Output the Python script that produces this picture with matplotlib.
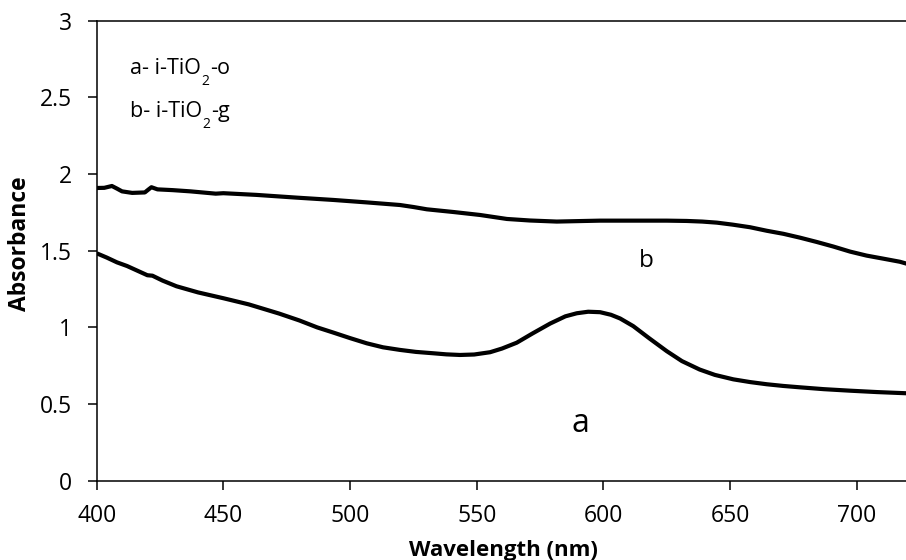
import matplotlib
matplotlib.use("Agg")
import matplotlib.pyplot as plt
from matplotlib.transforms import IdentityTransform

plt.rcParams['font.family'] = ['Open Sans', 'DejaVu Sans']

# Curve b: i-TiO2-g
wl_b = [400, 403, 406, 408, 410, 414, 419, 420.5, 421.6, 424, 430, 437, 447, 450, 463,
        479, 493.4, 506.6, 519.7, 525, 530.3, 541, 551.3, 561.9, 571, 581.6, 590,
        598.7, 611.8, 625, 632.9, 639, 644.8, 651, 657.9, 664.5, 671.1, 677.6, 684.2,
        690.8, 697.4, 703.9, 710.5, 717, 720]
ab_b = [1.909, 1.910, 1.922, 1.905, 1.887, 1.877, 1.880, 1.900, 1.914, 1.900, 1.895,
        1.887, 1.872, 1.875, 1.864, 1.846, 1.831, 1.815, 1.798, 1.785, 1.770, 1.752,
        1.733, 1.707, 1.697, 1.690, 1.693, 1.696, 1.696, 1.696, 1.694, 1.690, 1.683,
        1.670, 1.653, 1.630, 1.610, 1.585, 1.557, 1.527, 1.494, 1.468, 1.448, 1.428,
        1.414]

# Curve a: i-TiO2-o
wl_a = [400, 404, 408, 412, 416, 420, 422, 426, 431.5, 440, 450, 460, 465, 472, 480,
        487, 493.4, 500, 506.6, 513, 519.7, 526, 532.9, 538, 543.4, 549, 555.3, 560,
        565.8, 572, 579, 585, 589.5, 594, 598.7, 603, 606.6, 611.8, 618, 625, 631, 638,
        644, 651.3, 658, 664.5, 671, 677.6, 687, 697.4, 708, 720]
ab_a = [1.483, 1.455, 1.424, 1.400, 1.370, 1.340, 1.337, 1.305, 1.268, 1.228, 1.190,
        1.150, 1.125, 1.090, 1.045, 1.000, 0.966, 0.930, 0.896, 0.870, 0.853, 0.840,
        0.831, 0.824, 0.820, 0.823, 0.838, 0.862, 0.900, 0.960, 1.025, 1.072, 1.092,
        1.102, 1.099, 1.082, 1.058, 1.008, 0.930, 0.845, 0.780, 0.725, 0.690, 0.661,
        0.643, 0.629, 0.618, 0.609, 0.597, 0.587, 0.578, 0.570]

x_ticks = [400, 450, 500, 550, 600, 650, 700]
y_ticks = [0, 0.5, 1, 1.5, 2, 2.5, 3]
y_tick_labels = ['0', '0.5', '1', '1.5', '2', '2.5', '3']

legend_lines = [[('a- i-TiO', 0), ('2', 1), ('-o', 0)],
                [('b- i-TiO', 0), ('2', 1), ('-g', 0)]]

W, H = 906, 560
fig = plt.figure(figsize=(W / 100, H / 100), dpi=100)
ax = fig.add_axes([96.7 / W, 1 - 480.7 / H, 810.7 / W, 460.0 / H])

ax.plot(wl_b, ab_b, color='black', lw=3.0, solid_joinstyle='round', solid_capstyle='butt')
ax.plot(wl_a, ab_a, color='black', lw=3.0, solid_joinstyle='round', solid_capstyle='butt')

ax.set_xlim(400, 720)
ax.set_ylim(0, 3)
ax.set_xticks(x_ticks)
ax.set_xticklabels([str(t) for t in x_ticks])
ax.set_yticks(y_ticks)
ax.set_yticklabels(y_tick_labels)

for s in ['left', 'bottom', 'top']:
    ax.spines[s].set_linewidth(1.1)
    ax.spines[s].set_color('black')
ax.spines['right'].set_visible(False)

ax.tick_params(axis='both', direction='out', length=6.5, width=1.1, colors='black',
               labelsize=16.5)
ax.tick_params(axis='x', pad=10.5)
ax.tick_params(axis='y', pad=11.5)

fig.text(503 / W, 1 - 556 / H, 'Wavelength (nm)', ha='center', va='baseline',
         fontsize=16, fontweight='bold')
fig.text(20 / W, 1 - 244 / H, 'Absorbance', ha='center', va='center', rotation=90,
         fontsize=16.5, fontweight='bold')

# legend-like annotation with real subscripts
renderer = fig.canvas.get_renderer()
for line, base_y in zip(legend_lines, [74, 117]):
    x = 130.0
    for txt, is_sub in line:
        size = 10 if is_sub else 15.5
        dy = -11 if is_sub else 0
        t = fig.text(x, H - base_y + dy, txt, transform=IdentityTransform(),
                     ha='left', va='baseline', fontsize=size)
        bb = t.get_window_extent(renderer)
        x = bb.x1 + (0.5 if is_sub else 0.5)

fig.text(580 / W, 1 - 431.7 / H, 'a', ha='center', va='baseline', fontsize=23)
fig.text(646 / W, 1 - 266.7 / H, 'b', ha='center', va='baseline', fontsize=17.5)

fig.savefig('out.png', dpi=100)
